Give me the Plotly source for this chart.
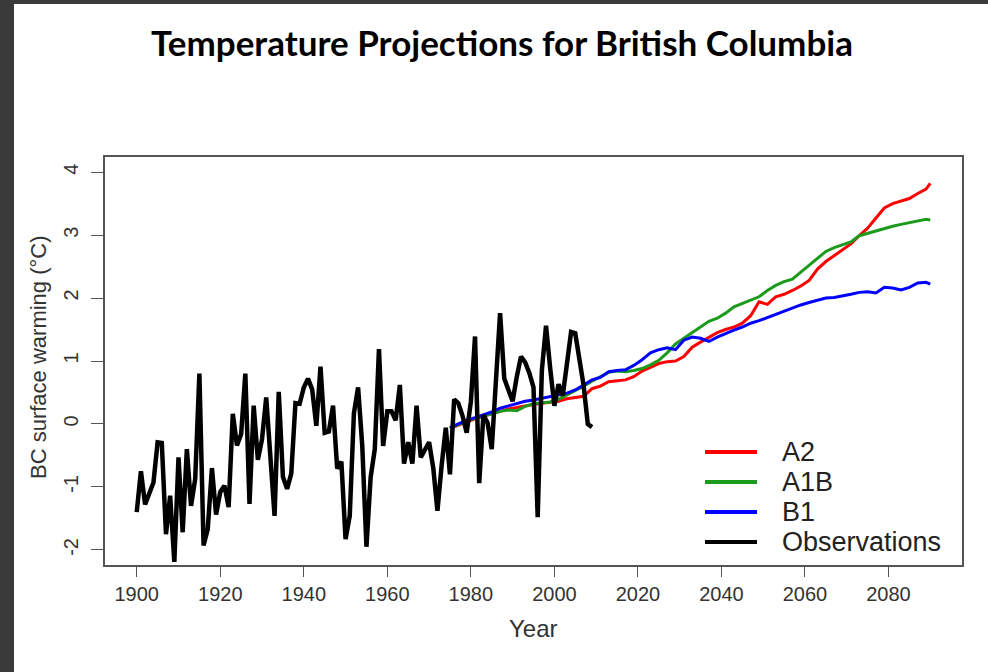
import plotly.graph_objects as go

# ---- data -------------------------------------------------------------
obs_years = list(range(1900, 2010))
obs_values = [
    -1.40, -0.75, -1.28, -1.11, -0.93, -0.29, -0.30, -1.75, -1.14, -2.19,
    -0.53, -1.72, -0.40, -1.30, -0.87, 0.80, -1.93, -1.67, -0.70, -1.44,
    -1.08, -0.98, -1.32, 0.16, -0.34, -0.16, 0.80, -1.27, 0.29, -0.57,
    -0.24, 0.42, -0.50, -1.46, 0.51, -0.84, -1.03, -0.79, 0.33, 0.32,
    0.58, 0.72, 0.55, -0.03, 0.91, -0.14, -0.12, 0.29, -0.71, -0.60,
    -1.83, -1.46, 0.17, 0.58, -0.35, -1.95, -0.85, -0.40, 1.19, -0.35,
    0.20, 0.20, 0.06, 0.62, -0.63, -0.29, -0.63, 0.29, -0.53, -0.42,
    -0.29, -0.70, -1.38, -0.66, -0.06, -0.80, 0.39, 0.33, 0.13, -0.14,
    0.35, 1.39, -0.94, 0.14, 0.02, -0.40, 0.70, 1.76, 0.72, 0.56,
    0.36, 0.75, 1.07, 0.98, 0.81, 0.58, -1.48, 0.85, 1.56, 0.88,
    0.29, 0.63, 0.45, 0.95, 1.46, 1.44, 1.03, 0.61, 0.00, -0.05,
]

proj_years = list(range(1975, 2090, 2)) + [2090]
a2_values = [
    -0.07, -0.02, 0.04, 0.08, 0.12, 0.16, 0.20, 0.24, 0.26, 0.29,
    0.31, 0.33, 0.35, 0.36, 0.40, 0.42, 0.44, 0.56, 0.60, 0.67,
    0.68, 0.70, 0.75, 0.84, 0.90, 0.96, 0.99, 1.00, 1.07, 1.22,
    1.30, 1.38, 1.45, 1.50, 1.54, 1.60, 1.72, 1.94, 1.90, 2.02,
    2.06, 2.12, 2.19, 2.28, 2.46, 2.58, 2.67, 2.77, 2.86, 2.99,
    3.11, 3.27, 3.43, 3.50, 3.54, 3.58, 3.66, 3.73, 3.82,
]
a1b_values = [
    -0.07, -0.01, 0.05, 0.09, 0.12, 0.16, 0.20, 0.22, 0.21, 0.28,
    0.32, 0.33, 0.35, 0.39, 0.46, 0.52, 0.60, 0.68, 0.75, 0.82,
    0.84, 0.83, 0.85, 0.88, 0.94, 1.01, 1.13, 1.27, 1.36, 1.45,
    1.55, 1.63, 1.68, 1.76, 1.86, 1.91, 1.96, 2.02, 2.12, 2.20,
    2.26, 2.30, 2.41, 2.52, 2.63, 2.74, 2.80, 2.84, 2.89, 2.99,
    3.03, 3.07, 3.11, 3.14, 3.17, 3.20, 3.23, 3.25, 3.24,
]
b1_values = [
    -0.06, 0.00, 0.06, 0.10, 0.14, 0.19, 0.25, 0.29, 0.32, 0.36,
    0.38, 0.41, 0.44, 0.46, 0.49, 0.54, 0.62, 0.70, 0.74, 0.83,
    0.85, 0.86, 0.93, 1.02, 1.13, 1.18, 1.21, 1.18, 1.33, 1.38,
    1.36, 1.31, 1.38, 1.44, 1.49, 1.54, 1.60, 1.64, 1.69, 1.75,
    1.80, 1.85, 1.89, 1.93, 1.96, 2.00, 2.01, 2.03, 2.06, 2.09,
    2.10, 2.08, 2.17, 2.16, 2.13, 2.17, 2.24, 2.25, 2.22,
]

series_names = ["A2", "A1B", "B1", "Observations"]
series_colors = ["#ff0000", "#1c9a1c", "#0000ff", "#000000"]

x_ticks = list(range(1900, 2081, 20))
y_ticks = list(range(-2, 5))
y_tick_text = [str(v) for v in y_ticks]   # plain hyphen for negatives

# ---- figure geometry (pixels) ----------------------------------------
W, H = 988, 672
L, R, T, B = 105, 962, 157, 565


def px(x):
    return (x - L) / (R - L)


def py(y):
    return (B - y) / (B - T)


fig = go.Figure()

projections = [(a2_values, 0), (a1b_values, 1), (b1_values, 2)]
for vals, i in projections:
    fig.add_trace(go.Scatter(
        x=proj_years, y=vals, mode="lines", name=series_names[i],
        line=dict(color=series_colors[i], width=3), showlegend=False,
    ))

fig.add_trace(go.Scatter(
    x=obs_years, y=obs_values, mode="lines", name=series_names[3],
    line=dict(color=series_colors[3], width=4.5), showlegend=False,
))

sans = "Liberation Sans, Arial, sans-serif"
axis_font = dict(family=sans, size=20, color="#333333")

fig.update_xaxes(
    range=[1892.4, 2097.6], tickvals=x_ticks, ticks="outside", ticklen=10,
    tickwidth=1.3, tickcolor="#555555", showline=True, linecolor="#555555",
    linewidth=1.5, mirror=True, showgrid=False, zeroline=False,
    tickfont=axis_font, ticklabelstandoff=0,
)
fig.update_yaxes(
    range=[-2.24, 4.24], tickvals=y_ticks, ticktext=y_tick_text,
    ticks="outside", ticklen=12,
    tickwidth=1.3, tickcolor="#555555", showline=True, linecolor="#555555",
    linewidth=1.5, mirror=True, showgrid=False, zeroline=False,
    tickfont=axis_font, tickangle=-90, ticklabelstandoff=5,
)

shapes = []
annotations = []

# dark frame strips on the left and top edges
frame = "#3a3a3a"
shapes.append(dict(type="rect", xref="paper", yref="paper", layer="above",
                   x0=px(0), x1=px(14), y0=py(H), y1=py(0),
                   line=dict(width=0), fillcolor=frame))
shapes.append(dict(type="rect", xref="paper", yref="paper", layer="above",
                   x0=px(0), x1=px(W), y0=py(4), y1=py(0),
                   line=dict(width=0), fillcolor=frame))

# legend (no box)
legend_rows = [452, 482, 512, 542]
for name, color, yrow in zip(series_names, series_colors, legend_rows):
    shapes.append(dict(type="line", xref="paper", yref="paper",
                       x0=px(705), x1=px(757), y0=py(yrow), y1=py(yrow),
                       line=dict(color=color, width=4)))
    annotations.append(dict(x=px(780), y=py(yrow), xref="paper", yref="paper",
                            text=name, showarrow=False, xanchor="left", yanchor="middle",
                            font=dict(family=sans, size=27, color="#222222")))

# titles
annotations.append(dict(x=px(502), y=py(42), xref="paper", yref="paper",
                        text="<b>Temperature Projections for British Columbia</b>",
                        showarrow=False, xanchor="center", yanchor="middle",
                        font=dict(family="Lato, sans-serif", size=35, color="#000000")))
annotations.append(dict(x=px(533), y=py(628), xref="paper", yref="paper",
                        text="Year", showarrow=False, xanchor="center", yanchor="middle",
                        font=dict(family=sans, size=24, color="#333333")))
annotations.append(dict(x=px(38), y=py(357), xref="paper", yref="paper",
                        text="BC surface warming (°C)", showarrow=False, textangle=-90,
                        xanchor="center", yanchor="middle",
                        font=dict(family=sans, size=22, color="#333333")))

fig.update_layout(
    width=W, height=H,
    margin=dict(l=L, r=W - R, t=T, b=H - B),
    paper_bgcolor="white", plot_bgcolor="white",
    showlegend=False, shapes=shapes, annotations=annotations,
)

fig.write_html("out.html")
